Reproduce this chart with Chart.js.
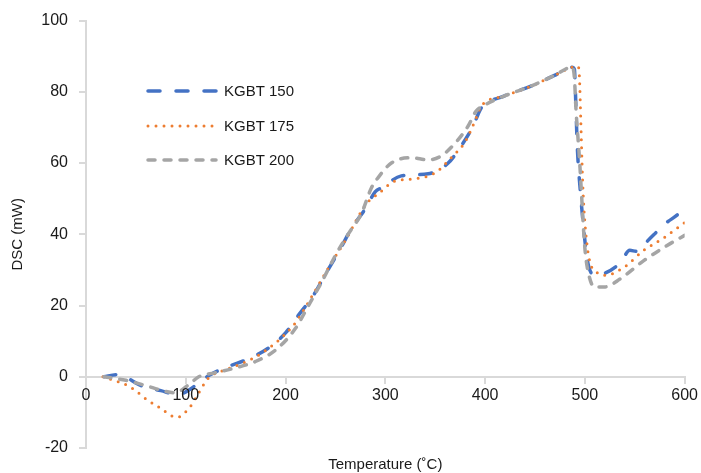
<!DOCTYPE html>
<html lang="en">
<head>
    <meta charset="UTF-8">
    <title>DSC curves</title>
    <script src="https://cdn.jsdelivr.net/npm/chart.js"></script>
    <style>
        body {
            margin: 0;
            background: #ffffff;
        }
        #wrap {
            width: 701px;
            height: 473px;
        }
    </style>
</head>
<body>
    <div id="wrap"><canvas id="dscChart"></canvas></div>

    <script>
        // data
        const t150 = [18, 31, 57, 75, 92, 104, 117, 124, 140, 165, 183, 200, 213, 228, 241, 255, 266, 280, 290, 296, 316, 343, 363, 376, 388, 393, 396, 419, 446, 469.5, 487, 489.5, 490.5, 492.5, 495.5, 499, 502.5, 509.5, 519.5, 535.5, 545, 552, 564, 582, 594, 596];
        const v150 = [0, 0.6, -2.7, -3.9, -5, -3.6, -0.8, 0.5, 2.6, 5.3, 8.1, 12.3, 17.3, 22.9, 29.3, 36, 41.6, 47.2, 52, 53, 56.4, 57, 60, 64.8, 70.4, 73.7, 75.4, 78.8, 81.6, 84.6, 86.9, 86.3, 80, 64, 52, 41, 32.7, 28.5, 29, 32, 35.5, 35.2, 38.5, 43.3, 45.8, 46.5];

        const t175 = [17, 44, 61, 74, 91, 97, 106, 112, 119, 124, 134, 150, 176.5, 208, 220, 246, 260, 281, 293, 310, 330, 350, 366, 380, 391, 396, 419, 446, 469.5, 487, 493, 494.5, 496, 497.5, 499, 502.5, 505.5, 512, 520, 539, 559, 579, 600];
        const v175 = [0, -2.8, -6.4, -8.7, -11.4, -10.6, -7.8, -5, -1.7, 0, 1.4, 3, 6.7, 14.5, 19.6, 32, 38.3, 48.6, 51.4, 55, 55.6, 57.3, 61.5, 66, 72.6, 76, 78.8, 81.6, 84.6, 86.9, 87.2, 84.4, 71, 57, 47.5, 36.3, 31.8, 29.3, 28.5, 30.7, 35.5, 39, 43.3];

        const t200 = [18, 40, 60, 77, 89, 104, 113, 129, 150, 170, 190, 210, 223, 236, 251, 265, 276, 286, 293, 306, 326, 343, 356, 370, 383, 391, 401, 419, 446, 469.5, 487, 489.5, 491, 494.5, 496.5, 498.5, 500.5, 504.5, 509.5, 519.5, 535.5, 559, 582, 600];
        const v200 = [0, -1, -2.5, -3.9, -4.5, -2, 0, 1.1, 2.5, 4.3, 7.5, 13.6, 20, 26.5, 34.6, 41, 45.8, 53, 56, 60, 61.5, 60.9, 62, 65.6, 70.4, 74.6, 76.5, 78.8, 81.6, 84.6, 86.9, 84, 75.5, 61.5, 52, 42, 34.6, 28, 25.2, 25.2, 27.5, 32.6, 36.8, 39.7];

        const seriesNames = ['KGBT 150', 'KGBT 175', 'KGBT 200'];
        const xTitle = 'Temperature (\u02DAC)';
        const yTitle = 'DSC (mW)';

        const toPoints = (xs, ys) => xs.map((x, i) => ({ x: x, y: ys[i] }));

        const axisGrey = '#d9d9d9';
        const textCol = '#1a1a1a';
        const fontFam = '"Liberation Sans", Arial, sans-serif';

        // legend drawn inside the plot, to the left, plus the x axis title
        const legendPlugin = {
            id: 'insideLegend',
            afterDatasetsDraw(chart) {
                const ctx = chart.ctx;
                const rows = [91, 126, 160];
                chart.data.datasets.forEach((ds, i) => {
                    ctx.save();
                    ctx.strokeStyle = ds.borderColor;
                    ctx.lineWidth = ds.borderWidth;
                    ctx.lineCap = ds.borderCapStyle;
                    ctx.setLineDash(ds.borderDash);
                    ctx.beginPath();
                    ctx.moveTo(148, rows[i]);
                    ctx.lineTo(216, rows[i]);
                    ctx.stroke();
                    ctx.setLineDash([]);
                    ctx.fillStyle = textCol;
                    ctx.font = '15px ' + fontFam;
                    ctx.textBaseline = 'middle';
                    ctx.fillText(ds.label, 224, rows[i] + 1);
                    ctx.restore();
                });
            },
            afterDraw(chart) {
                const ctx = chart.ctx;
                const a = chart.chartArea;
                ctx.save();
                ctx.fillStyle = textCol;
                ctx.font = '15px ' + fontFam;
                ctx.textAlign = 'center';
                ctx.textBaseline = 'middle';
                ctx.fillText(xTitle, (a.left + a.right) / 2, 465);
                ctx.restore();
            }
        };

        const ctx = document.getElementById('dscChart').getContext('2d');
        const dscChart = new Chart(ctx, {
            type: 'line',
            data: {
                datasets: [{
                    label: seriesNames[0],
                    data: toPoints(t150, v150),
                    borderColor: '#4472C4',
                    borderWidth: 3.5,
                    borderDash: [12, 16],
                    borderCapStyle: 'round',
                    order: 3
                }, {
                    label: seriesNames[1],
                    data: toPoints(t175, v175),
                    borderColor: '#ED7D31',
                    borderWidth: 3,
                    borderDash: [0, 8],
                    borderCapStyle: 'round',
                    order: 2
                }, {
                    label: seriesNames[2],
                    data: toPoints(t200, v200),
                    borderColor: '#A5A5A5',
                    borderWidth: 3.5,
                    borderDash: [7, 9],
                    borderCapStyle: 'round',
                    order: 1
                }]
            },
            options: {
                responsive: true,
                maintainAspectRatio: false,
                animation: false,
                elements: {
                    point: { radius: 0 },
                    line: { cubicInterpolationMode: 'monotone', fill: false }
                },
                layout: {
                    padding: { top: 19, right: 15, bottom: 25, left: 0 }
                },
                plugins: {
                    legend: { display: false },
                    tooltip: { enabled: false }
                },
                scales: {
                    x: {
                        type: 'linear',
                        min: 0,
                        max: 600,
                        position: { y: 0 },
                        ticks: {
                            stepSize: 100,
                            color: textCol,
                            font: { family: fontFam, size: 16 },
                            padding: 3,
                            maxRotation: 0,
                            z: 2
                        },
                        grid: {
                            drawOnChartArea: false,
                            drawTicks: true,
                            tickLength: 6,
                            color: axisGrey,
                            lineWidth: 2
                        },
                        border: { color: axisGrey, width: 2 }
                    },
                    y: {
                        min: -20,
                        max: 100,
                        ticks: {
                            stepSize: 20,
                            color: textCol,
                            font: { family: fontFam, size: 16 },
                            padding: 11
                        },
                        grid: {
                            drawOnChartArea: false,
                            drawTicks: true,
                            tickLength: 7,
                            color: axisGrey,
                            lineWidth: 2
                        },
                        border: { color: axisGrey, width: 2 },
                        title: {
                            display: true,
                            text: yTitle,
                            color: textCol,
                            font: { family: fontFam, size: 15 },
                            padding: { top: 9, bottom: 0 }
                        },
                        afterFit(scale) {
                            scale.width = 86;
                        }
                    }
                }
            },
            plugins: [legendPlugin]
        });
    </script>
</body>
</html>
